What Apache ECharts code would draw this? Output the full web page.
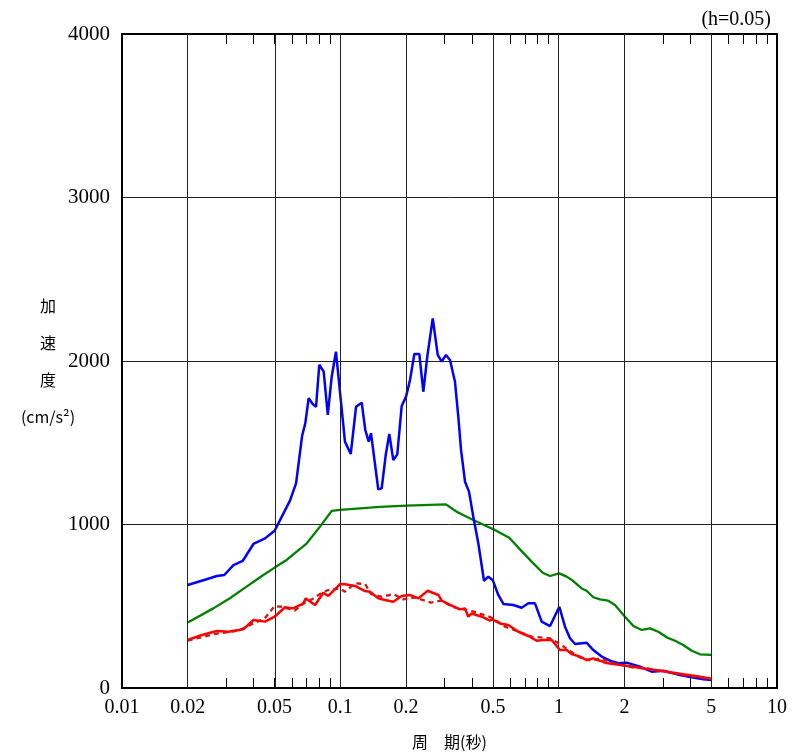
<!DOCTYPE html>
<html><head><meta charset="utf-8">
<script src="https://cdn.jsdelivr.net/npm/echarts@6/dist/echarts.min.js"></script>
<style>html,body{margin:0;padding:0;background:#fff}#c{width:796px;height:753px}</style>
</head><body><div id="c"></div>
<script>
// Tick labels (period, seconds) on a log scale
const xTickLabels = [0.01, 0.02, 0.05, 0.1, 0.2, 0.5, 1, 2, 5, 10];
const xGridValues = [0.02, 0.05, 0.1, 0.2, 0.5, 1, 2, 5];
const xMinorTicks = [0.02, 0.03, 0.04, 0.05, 0.06, 0.07, 0.08, 0.09,
                     0.2, 0.3, 0.4, 0.5, 0.6, 0.7, 0.8, 0.9,
                     2, 3, 4, 5, 6, 7, 8, 9];
const yTicks = [0, 1000, 2000, 3000, 4000];

// Blue series
const blueT = [0.02,0.0244,0.0272,0.0294,0.0324,0.0357,0.04,0.0452,0.05,0.0588,0.0627,0.0668,0.0691,0.0716,0.0747,0.0774,0.0801,0.0839,0.0876,0.0913,0.0955,0.105,0.1116,0.118,0.1253,0.1301,0.1349,0.1382,0.1492,0.1547,0.1614,0.1676,0.1748,0.1823,0.191,0.2,0.2085,0.2183,0.23,0.2399,0.2502,0.265,0.2793,0.2913,0.3048,0.3179,0.3351,0.347,0.3571,0.3724,0.3885,0.4064,0.4285,0.455,0.476,0.4986,0.529,0.558,0.62,0.677,0.726,0.779,0.836,0.913,1.007,1.069,1.127,1.188,1.344,1.441,1.574,1.718,1.876,2.049,2.36,2.67,3.02,3.59,4.07,4.6,5.0];
const blueA = [630,665,685,691,752,777,881,915,962,1146,1252,1541,1619,1772,1737,1720,1977,1935,1670,1904,2057,1507,1431,1720,1745,1578,1507,1558,1215,1221,1425,1554,1394,1429,1725,1782,1884,2043,2043,1812,2027,2261,2037,1996,2037,2006,1873,1659,1456,1262,1201,1048,885,656,681,661,569,514,508,491,518,518,406,379,497,375,304,269,277,232,192,167,151,155,130,100,106,80,65,53,49];

// Green series
const greenT = [0.02,0.0262,0.0312,0.0372,0.0444,0.0502,0.0568,0.0702,0.0807,0.0913,0.0996,0.152,0.2014,0.3048,0.341,0.406,0.502,0.594,0.665,0.752,0.845,0.912,1.006,1.088,1.167,1.274,1.343,1.441,1.546,1.687,1.811,2.013,2.198,2.401,2.62,2.86,3.124,3.41,3.72,4.07,4.44,5.0];
const greenA = [400,487,549,620,691,738,783,885,987,1083,1089,1108,1115,1123,1078,1028,971,919,848,773,705,685,701,681,654,609,595,555,542,534,508,436,379,355,365,344,310,289,263,228,206,202];

// Red solid series
const redT = [0.02,0.0232,0.0272,0.0307,0.0359,0.04,0.0452,0.05,0.0558,0.0609,0.0677,0.0694,0.0766,0.0836,0.0881,0.0997,0.105,0.1168,0.1297,0.1368,0.1493,0.1602,0.1748,0.191,0.2085,0.2276,0.2513,0.2811,0.2913,0.3179,0.3533,0.3724,0.3855,0.3996,0.4442,0.4847,0.4966,0.5386,0.5879,0.6534,0.726,0.7933,0.8504,0.9292,1.014,1.088,1.147,1.252,1.344,1.441,1.546,1.63,1.78,2.2,2.62,3.12,3.72,4.44,5.0];
const redA = [294,324,349,344,359,416,406,436,494,487,518,548,508,583,563,636,635,624,593,589,548,538,528,563,569,548,595,569,534,508,481,487,436,456,436,412,420,395,385,344,318,289,294,294,232,232,208,192,171,181,167,155,147,130,114,100,84,69,57];

// Red dashed series
const dashT = [0.02,0.0275,0.034,0.04,0.045,0.05,0.054,0.0618,0.068,0.074,0.0825,0.088,0.0997,0.105,0.117,0.13,0.138,0.155,0.175,0.194,0.22,0.26,0.29,0.33,0.41,0.457,0.49,0.568,0.677,0.752,0.913,1.03,1.11,1.27,1.42,1.55,1.8,2.2,2.6,3.1,3.7,4.4,5.0];
const dashA = [290,334,350,395,425,501,497,473,518,542,583,599,609,589,640,636,575,558,575,542,554,522,534,494,467,446,432,375,338,314,304,263,232,181,167,181,150,125,118,100,80,66,55];

const lg = v => Math.log10(v);
const toData = (T, A) => T.map((t, i) => [lg(t), A[i]]);
const fmt = v => String(parseFloat(Math.pow(10, v).toPrecision(3)));

const serif = "'Liberation Serif', 'DejaVu Serif', serif";
const cjk = "'Noto Sans CJK JP', sans-serif";

const chart = echarts.init(document.getElementById('c'), null, {renderer: 'canvas'});

const xBase = {
  type: 'value', min: lg(xTickLabels[0]), max: lg(xTickLabels[xTickLabels.length - 1]),
  axisLine: {show: true, onZero: false, lineStyle: {color: '#000', width: 2}},
  axisTick: {show: true, inside: true, length: 10, customValues: xMinorTicks.map(lg),
             lineStyle: {color: '#000', width: 1}},
  splitLine: {show: false}
};

chart.setOption({
  animation: false,
  backgroundColor: '#fff',
  title: {
    text: '(h=0.05)', right: 20, top: 5,
    textStyle: {fontFamily: serif, fontSize: 20, fontWeight: 'normal', color: '#000'}
  },
  grid: {left: 122, right: 19, top: 34, bottom: 65, outerBoundsMode: 'none', containLabel: false,
         show: true, borderColor: '#000', borderWidth: 2, backgroundColor: 'transparent'},
  xAxis: [
    Object.assign({}, xBase, {
      position: 'bottom',
      axisLabel: {customValues: xTickLabels.map(lg), formatter: fmt, margin: 10,
                  fontFamily: serif, fontSize: 20, color: '#000'},
      name: '周\u3000期(秒)', nameLocation: 'middle', nameGap: 46, nameMoveOverlap: false,
      nameTextStyle: {fontFamily: cjk, fontSize: 16, color: '#000'}
    }),
    Object.assign({}, xBase, {
      position: 'top',
      axisLabel: {show: false}
    })
  ],
  yAxis: {
    type: 'value', min: yTicks[0], max: yTicks[yTicks.length - 1], interval: 1000,
    axisLine: {show: true, onZero: false, lineStyle: {color: '#000', width: 2}},
    axisTick: {show: false},
    axisLabel: {margin: 12, fontFamily: serif, fontSize: 21, color: '#000', formatter: v => String(v)},
    splitLine: {show: true, lineStyle: {color: '#222', width: 1}},
    name: '加\n速\n度\n(cm/s²)', nameLocation: 'middle', nameRotate: 0, nameGap: 74, nameMoveOverlap: false,
    nameTextStyle: {fontFamily: cjk, fontSize: 16, color: '#000', lineHeight: 37, align: 'center'}
  },
  series: [
    {
      type: 'line', data: [], z: 1, silent: true,
      markLine: {
        silent: true, symbol: ['none', 'none'], label: {show: false},
        lineStyle: {color: '#222', width: 1, type: 'solid'},
        data: xGridValues.map(v => ({xAxis: lg(v)}))
      }
    },
    {type: 'line', data: toData(greenT, greenA), showSymbol: false, z: 3,
     lineStyle: {color: '#008000', width: 2.3}, itemStyle: {color: '#008000'}},
    {type: 'line', data: toData(blueT, blueA), showSymbol: false, z: 4,
     lineStyle: {color: '#0000ff', width: 2.5}, itemStyle: {color: '#0000ff'}},
    {type: 'line', data: toData(dashT, dashA), showSymbol: false, z: 5,
     lineStyle: {color: '#cc1a1a', width: 2.3, type: [5, 4]}, itemStyle: {color: '#cc1a1a'}},
    {type: 'line', data: toData(redT, redA), showSymbol: false, z: 6,
     lineStyle: {color: '#ff0000', width: 2.5}, itemStyle: {color: '#ff0000'}}
  ]
});
</script>
</body></html>
